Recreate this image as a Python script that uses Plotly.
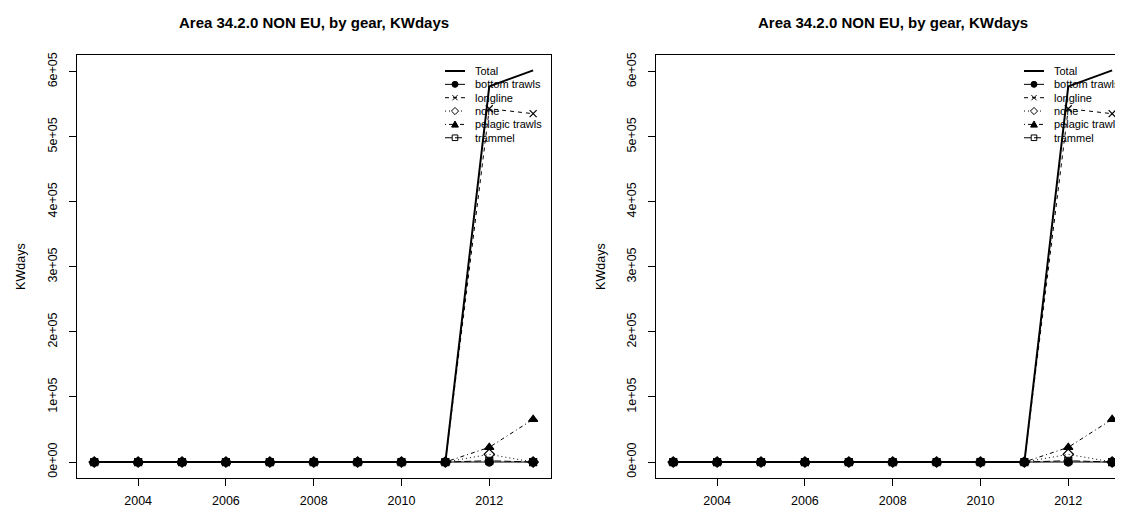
import plotly.graph_objects as go

# ---------------- data ----------------
years = [2003, 2004, 2005, 2006, 2007, 2008, 2009, 2010, 2011, 2012, 2013]
series_names = ["Total", "bottom trawls", "longline", "none", "pelagic trawls", "trammel"]
total          = [0, 0, 0, 0, 0, 0, 0, 0, 0, 577400, 602000]
bottom_trawls  = [0, 0, 0, 0, 0, 0, 0, 0, 0, 0, 0]
longline       = [0, 0, 0, 0, 0, 0, 0, 0, 0, 543000, 535400]
none_gear      = [0, 0, 0, 0, 0, 0, 0, 0, 0, 11800, 0]
pelagic_trawls = [0, 0, 0, 0, 0, 0, 0, 0, 0, 22600, 65700]
trammel        = [0, 0, 0, 0, 0, 0, 0, 0, 0, 2000, 0]
values = [total, bottom_trawls, longline, none_gear, pelagic_trawls, trammel]

x_tickvals = [2004, 2006, 2008, 2010, 2012]
x_ticktext = ["2004", "2006", "2008", "2010", "2012"]
y_tickvals = [0, 100000, 200000, 300000, 400000, 500000, 600000]
y_ticktext = ["0e+00", "1e+05", "2e+05", "3e+05", "4e+05", "5e+05", "6e+05"]
title_text = "Area 34.2.0 NON EU, by gear, KWdays"
ylabel = "KWdays"

# ---------------- styles ----------------
FONT = "Liberation Sans, Arial, Helvetica, sans-serif"
TICK_SIZE = 12.5
TITLE_SIZE = 15
LEGEND_SIZE = 11
styles = {
    "Total":          dict(dash="solid", width=2, symbol=None, size=0),
    "bottom trawls":  dict(dash="solid", width=1, symbol="circle", size=8),
    "longline":       dict(dash="4px,4px", width=1, symbol="x-thin-open", size=7),
    "none":           dict(dash="1px,3px", width=1, symbol="diamond-open", size=8),
    "pelagic trawls": dict(dash="1px,3px,4px,3px", width=1, symbol="triangle-up", size=8),
    "trammel":        dict(dash="7px,3px", width=1, symbol="square-open", size=7),
}
draw_order = ["Total", "trammel", "pelagic trawls", "none", "longline", "bottom trawls"]

# page is 1123x511; the html body adds an 8px margin, so the figure is 8px smaller
OFF = 8
PAGE_W, PAGE_H = 1123, 511
W, H = PAGE_W - OFF, PAGE_H - OFF
box_lefts = [76.7, 655.7]          # page pixels
box_w = 474.0
box_top, box_bot = 54.7, 477.7


def px(x):
    return (x - OFF) / W


def py(y):
    return 1 - (y - OFF) / H


fig = go.Figure()

xmin, xmax = min(years), max(years)
xpad = 0.04 * (xmax - xmin)
allv = [v for s in values for v in s]
ymin, ymax = min(allv), max(allv)
ypad = 0.04 * (ymax - ymin)
xspan = (xmax - xmin) + 2 * xpad

for p in range(2):
    xa = "x" if p == 0 else "x2"
    ya = "y" if p == 0 else "y2"
    for name in draw_order:
        st = styles[name]
        vals = values[series_names.index(name)]
        if st["symbol"] is None:
            fig.add_trace(go.Scatter(x=years, y=vals, mode="lines", xaxis=xa, yaxis=ya,
                                     line=dict(color="black", width=st["width"], dash=st["dash"]),
                                     showlegend=False, name=name))
        else:
            fig.add_trace(go.Scatter(x=years, y=vals, mode="lines+markers", xaxis=xa, yaxis=ya,
                                     line=dict(color="black", width=st["width"], dash=st["dash"]),
                                     marker=dict(symbol=st["symbol"], size=st["size"], color="black",
                                                 line=dict(color="black", width=1.2)),
                                     showlegend=False, name=name))

common_x = dict(showline=True, linecolor="black", linewidth=1, mirror=True, ticks="outside",
                ticklen=7, tickwidth=1, tickcolor="black", showgrid=False, zeroline=False,
                tickfont=dict(family=FONT, size=TICK_SIZE, color="black"), automargin=False,
                tickvals=x_tickvals, ticktext=x_ticktext, ticklabelstandoff=4)
common_y = dict(showline=True, linecolor="black", linewidth=1, ticks="outside",
                ticklen=7, tickwidth=1, tickcolor="black", showgrid=False, zeroline=False,
                tickfont=dict(family=FONT, size=TICK_SIZE, color="black"), automargin=False,
                tickvals=y_tickvals, ticktext=y_ticktext, tickangle=-90, ticklabelstandoff=7,
                range=[ymin - ypad, ymax + ypad])

right_range_end = (xmin - xpad) + (PAGE_W - box_lefts[1]) / box_w * xspan
fig.update_layout(
    width=W, height=H, margin=dict(l=0, r=0, t=0, b=0),
    paper_bgcolor="white", plot_bgcolor="white", showlegend=False,
    xaxis=dict(domain=[px(box_lefts[0]), px(box_lefts[0] + box_w)],
               range=[xmin - xpad, xmax + xpad], anchor="y", **common_x),
    yaxis=dict(domain=[py(box_bot), py(box_top)], anchor="x", mirror=True, **common_y),
    xaxis2=dict(domain=[px(box_lefts[1]), 1.0],
                range=[xmin - xpad, right_range_end], anchor="y2", **common_x),
    yaxis2=dict(domain=[py(box_bot), py(box_top)], anchor="x2", mirror=False, **common_y),
)

annotations = []
shapes = []
leg_y0 = 71.0
leg_dy = 13.35
for p in range(2):
    bl = box_lefts[p]
    br = bl + box_w
    annotations.append(dict(text="<b>" + title_text + "</b>", x=px(bl + box_w / 2), y=py(22.7),
                            xref="paper", yref="paper", xanchor="center", yanchor="middle",
                            showarrow=False, font=dict(family=FONT, size=TITLE_SIZE, color="black")))
    annotations.append(dict(text=ylabel, x=px(bl - 55), y=py((box_top + box_bot) / 2),
                            xref="paper", yref="paper", xanchor="center", yanchor="middle",
                            textangle=-90, showarrow=False,
                            font=dict(family=FONT, size=TICK_SIZE, color="black")))
    # manual legend (R style, no box)
    lx0, lx1 = br - 105.7, br - 85.7
    mx = (lx0 + lx1) / 2
    tx = br - 76.5
    for i, name in enumerate(series_names):
        st = styles[name]
        yc = leg_y0 + i * leg_dy
        shapes.append(dict(type="line", xref="paper", yref="paper", x0=px(lx0), x1=px(lx1),
                           y0=py(yc), y1=py(yc),
                           line=dict(color="black", width=st["width"], dash=st["dash"])))
        sym = st["symbol"]
        if sym == "circle":
            r = 3
            shapes.append(dict(type="circle", xref="paper", yref="paper", x0=px(mx - r), x1=px(mx + r),
                               y0=py(yc + r), y1=py(yc - r), fillcolor="black",
                               line=dict(color="black", width=1)))
        elif sym == "x-thin-open":
            r = 2.6
            for s in (1, -1):
                shapes.append(dict(type="line", xref="paper", yref="paper", x0=px(mx - r), x1=px(mx + r),
                                   y0=py(yc - s * r), y1=py(yc + s * r),
                                   line=dict(color="black", width=1)))
        elif sym == "diamond-open":
            r = 3.6
            path = "M {} {} L {} {} L {} {} L {} {} Z".format(
                px(mx), py(yc - r), px(mx + r), py(yc), px(mx), py(yc + r), px(mx - r), py(yc))
            shapes.append(dict(type="path", xref="paper", yref="paper", path=path, fillcolor="white",
                               line=dict(color="black", width=1)))
        elif sym == "triangle-up":
            r = 3.4
            path = "M {} {} L {} {} L {} {} Z".format(
                px(mx), py(yc - r), px(mx + r), py(yc + r * 0.8), px(mx - r), py(yc + r * 0.8))
            shapes.append(dict(type="path", xref="paper", yref="paper", path=path, fillcolor="black",
                               line=dict(color="black", width=1)))
        elif sym == "square-open":
            r = 2.8
            shapes.append(dict(type="rect", xref="paper", yref="paper", x0=px(mx - r), x1=px(mx + r),
                               y0=py(yc + r), y1=py(yc - r),
                               line=dict(color="black", width=1)))
        annotations.append(dict(text=name, x=px(tx), y=py(yc), xref="paper", yref="paper",
                                xanchor="left", yanchor="middle", showarrow=False, borderpad=0,
                                font=dict(family=FONT, size=LEGEND_SIZE, color="black")))

fig.update_layout(annotations=annotations, shapes=shapes)
fig.write_html("out.html")
